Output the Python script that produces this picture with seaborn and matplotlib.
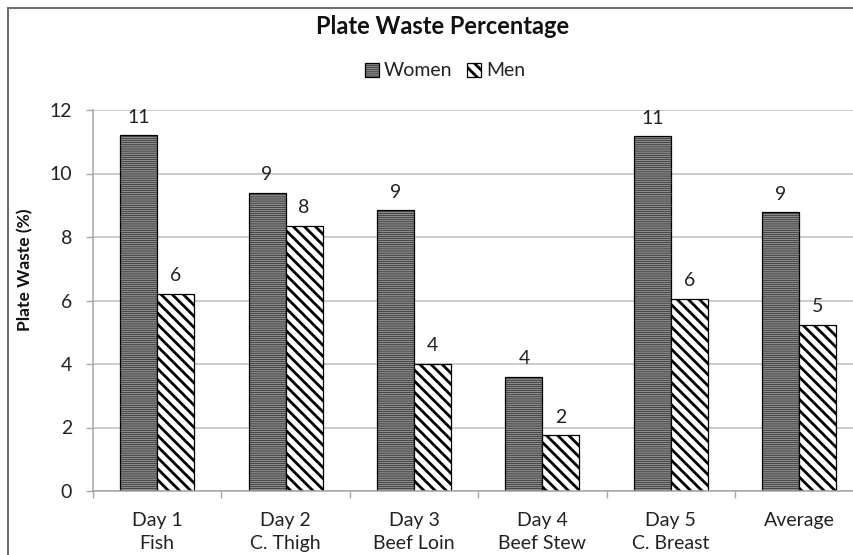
import matplotlib
matplotlib.use("Agg")
import matplotlib.pyplot as plt
import seaborn as sns
import pandas as pd
from matplotlib.patches import Rectangle, Patch

# Data
meals = ["Day 1\nFish", "Day 2\nC. Thigh", "Day 3\nBeef Loin",
         "Day 4\nBeef Stew", "Day 5\nC. Breast", "Average"]
women = [11.2, 9.38, 8.84, 3.6, 11.17, 8.78]
men = [6.2, 8.35, 4.0, 1.75, 6.06, 5.24]
groups = ["Women", "Men"]

df = pd.DataFrame({
    "meal": meals * 2,
    "waste": women + men,
    "sex": ["Women"] * len(meals) + ["Men"] * len(meals),
})

sns.set_theme(style="white")
plt.rcParams["font.family"] = ["Lato", "DejaVu Sans"]
plt.rcParams["hatch.linewidth"] = 2.0

W, H = 854, 555
fig = plt.figure(figsize=(W / 100, H / 100), dpi=100)
fig.patch.set_facecolor("white")

left, right, top, bottom = 93, 863.4, 110, 491
ax = fig.add_axes([left / W, 1 - bottom / H, (right - left) / W, (bottom - top) / H])

fills = {"Women": "#8c8c8c", "Men": "white"}
sns.barplot(data=df, x="meal", y="waste", hue="sex", order=meals,
            hue_order=groups, palette=fills,
            edgecolor="black", linewidth=0.9, width=0.576, saturation=1,
            ax=ax, legend=False, errorbar=None)

hatches = {"Women": "--------", "Men": "\\\\\\"}
hatch_lw = {"Women": 0.35, "Men": 2.0}


def style_patch(p, g):
    p.set_hatch(hatches[g])
    if hasattr(p, "set_hatch_linewidth"):
        p.set_hatch_linewidth(hatch_lw[g])


for cont, g in zip(ax.containers, groups):
    for bar in cont:
        style_patch(bar, g)
    ax.bar_label(cont, fmt="%.0f", padding=7, fontsize=14, color="#222222")

# Axes styling
ax.set_ylim(0, 12)
ax.set_yticks(range(0, 13, 2))
ax.set_xlim(-0.5, len(meals) - 0.5)
ax.set_xlabel("")
ax.set_ylabel("")
ax.yaxis.grid(True, color="#bdbdbd", linewidth=1.1)
ax.set_axisbelow(True)
for s in ["top", "right"]:
    ax.spines[s].set_visible(False)
for s in ["left", "bottom"]:
    ax.spines[s].set_color("#a6a6a6")
    ax.spines[s].set_linewidth(1.1)

ax.tick_params(axis="y", which="major", left=True, length=5, width=1,
               color="#a6a6a6", pad=10, labelsize=14, labelcolor="#222222")
ax.tick_params(axis="x", which="major", bottom=False, length=0, pad=15,
               labelsize=14, labelcolor="#222222")
ax.set_xticks([i - 0.5 for i in range(len(meals) + 1)], minor=True)
ax.tick_params(axis="x", which="minor", bottom=True, length=5, width=1,
               color="#a6a6a6")
for lab in ax.get_xticklabels():
    lab.set_linespacing(1.45)
    lab.set_verticalalignment("top")

fig.text(25 / W, 1 - 270 / H, "Plate Waste (%)", rotation=90, ha="center",
         va="center", fontsize=12.5, fontweight="bold", color="#111111")
fig.text(443 / W, 1 - 27 / H, "Plate Waste Percentage", ha="center",
         va="center", fontsize=17, fontweight="bold", color="#111111")

handles = [Patch(facecolor=fills[g], edgecolor="black", linewidth=0.9)
           for g in groups]
leg = fig.legend(handles=handles, labels=groups, ncol=2,
                 loc="center", bbox_to_anchor=(445 / W, 1 - 71 / H),
                 frameon=False, fontsize=14, handlelength=0.7,
                 handleheight=0.7, handletextpad=0.25, columnspacing=0.8,
                 borderaxespad=0)
for h, g in zip(leg.legend_handles, groups):
    style_patch(h, g)
for t in leg.get_texts():
    t.set_color("#222222")

# Chart-area border
fig.add_artist(Rectangle((8 / W, -0.2), 1.2, 1.2 - 8 / H,
                         transform=fig.transFigure, fill=False,
                         edgecolor="#6e6e6e", linewidth=1.5))

fig.savefig("out.png", dpi=100, facecolor="white")
